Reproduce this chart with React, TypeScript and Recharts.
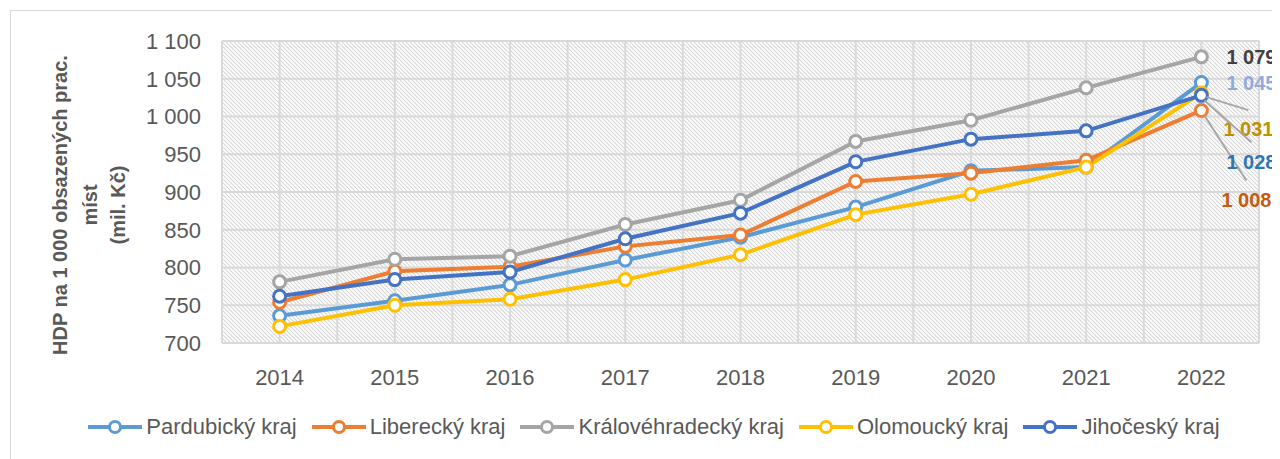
import React from 'react';
import { LineChart, Line, XAxis, YAxis, CartesianGrid, Legend, LabelList } from 'recharts';

const years = [2014, 2015, 2016, 2017, 2018, 2019, 2020, 2021, 2022];
const pardubicky = [736, 756, 777, 810, 840, 880, 928, 933, 1045];
const liberecky = [754, 795, 801, 828, 843, 914, 925, 942, 1008];
const kralovehradecky = [781, 811, 815, 857, 889, 967, 995, 1038, 1079];
const olomoucky = [722, 750, 758, 784, 817, 870, 897, 933, 1031];
const jihocesky = [762, 784, 794, 838, 872, 940, 970, 981, 1028];
const yTicks = [700, 750, 800, 850, 900, 950, 1000, 1050, 1100];
const gridSteps = [2013.5, 2014, 2014.5, 2015, 2015.5, 2016, 2016.5, 2017, 2017.5, 2018, 2018.5, 2019, 2019.5, 2020, 2020.5, 2021, 2021.5, 2022, 2022.5];
const yTitleLines = ['HDP na 1 000 obsazených prac.', 'míst', '(mil. Kč)'];

const data = years.map((year, i) => ({
  year,
  pardubicky: pardubicky[i],
  liberecky: liberecky[i],
  kralovehradecky: kralovehradecky[i],
  olomoucky: olomoucky[i],
  jihocesky: jihocesky[i],
}));

const FONT = '"Liberation Sans", Arial, sans-serif';
const TEXT = '#595959';

type LabelCfg = { color: string; dx: number; dy: number; leader?: [number, number, number, number] };

const series: { key: string; name: string; color: string; label: LabelCfg }[] = [
  { key: 'pardubicky', name: 'Pardubický kraj', color: '#5b9bd5', label: { color: '#8faadc', dx: 25, dy: 0 } },
  { key: 'liberecky', name: 'Liberecký kraj', color: '#ed7d31', label: { color: '#c55a11', dx: 20, dy: 90, leader: [3, 5, 45, 70] } },
  { key: 'kralovehradecky', name: 'Královéhradecký kraj', color: '#a5a5a5', label: { color: '#404040', dx: 25, dy: 0 } },
  { key: 'olomoucky', name: 'Olomoucký kraj', color: '#ffc000', label: { color: '#bf9000', dx: 22, dy: 36, leader: [5, 4, 47, 17] } },
  { key: 'jihocesky', name: 'Jihočeský kraj', color: '#4472c4', label: { color: '#2e75b6', dx: 25, dy: 67, leader: [3, 5, 50, 47] } },
];

const fmt = (v: number) =>
  v >= 1000 ? `${Math.floor(v / 1000)} ${String(v % 1000).padStart(3, '0')}` : String(v);

const EndLabel = (props: any) => {
  const { cfg, value, index } = props;
  const x = props.x ?? props.viewBox?.x;
  const y = props.y ?? props.viewBox?.y;
  if (index !== years.length - 1 || x == null || y == null) return null;
  return (
    <g>
      {cfg.leader && (
        <line
          x1={x + cfg.leader[0]}
          y1={y + cfg.leader[1]}
          x2={x + cfg.leader[2]}
          y2={y + cfg.leader[3]}
          stroke="#a6a6a6"
          strokeWidth={2}
        />
      )}
      <text
        x={x + cfg.dx}
        y={y + cfg.dy}
        dominantBaseline="central"
        fill={cfg.color}
        fontFamily={FONT}
        fontSize={20}
        fontWeight="bold"
      >
        {fmt(Number(value))}
      </text>
    </g>
  );
};

const YTitle = (props: any) => {
  const vb = props.viewBox || { x: 0, y: 33, width: 214, height: 302 };
  const cy = vb.y + vb.height / 2 + 13;
  const xs = [52, 82, 110];
  return (
    <g>
      {yTitleLines.map((t, i) => (
        <text
          key={i}
          x={xs[i]}
          y={cy}
          transform={`rotate(-90, ${xs[i]}, ${cy})`}
          textAnchor="middle"
          dominantBaseline="central"
          fill={TEXT}
          fontFamily={FONT}
          fontSize={20}
          fontWeight="bold"
        >
          {t}
        </text>
      ))}
    </g>
  );
};

const LegendContent = () => (
  <div
    style={{
      display: 'flex',
      justifyContent: 'center',
      alignItems: 'center',
      height: 30,
      paddingLeft: 54,
      fontFamily: FONT,
      fontSize: 22,
      color: TEXT,
    }}
  >
    {series.map((s) => (
      <div key={s.key} style={{ display: 'flex', alignItems: 'center', marginRight: 14 }}>
        <svg width={56} height={20}>
          <line x1={1} y1={10} x2={55} y2={10} stroke={s.color} strokeWidth={4} />
          <circle cx={28} cy={10} r={5.5} fill="#fff" stroke={s.color} strokeWidth={3} />
        </svg>
        <span style={{ marginLeft: 3, whiteSpace: 'nowrap' }}>{s.name}</span>
      </div>
    ))}
  </div>
);

const vGen = (p: any) => {
  const xa = p?.xAxis;
  if (xa && typeof xa.scale === 'function') {
    return gridSteps.map((v) => xa.scale(v));
  }
  const off = p?.offset || { left: 214, width: 1037 };
  return gridSteps.map((_, i) => off.left + (i / (gridSteps.length - 1)) * off.width);
};

export default function App() {
  return (
    <div style={{ position: 'relative', width: 1272, height: 451, overflow: 'hidden', background: '#fff' }}>
      <div
        style={{
          position: 'absolute',
          left: 2,
          top: 2,
          width: 2000,
          height: 2000,
          border: '1px solid #d9d9d9',
        }}
      />
      <div style={{ position: 'absolute', left: 0, top: 0 }}>
        <LineChart width={1272} height={451} data={data} margin={{ top: 33, right: 21, bottom: 17, left: 0 }}>
          <defs>
            <pattern id="hatch" patternUnits="userSpaceOnUse" width={4} height={4}>
              <path d="M0,0 L4,4 M-1,3 L1,5 M3,-1 L5,1" stroke="#d6d6d6" strokeWidth={1.1} />
            </pattern>
          </defs>
          <CartesianGrid
            fill="url(#hatch)"
            stroke="#d9d9d9"
            strokeWidth={2}
            verticalCoordinatesGenerator={vGen}
          />
          <XAxis
            dataKey="year"
            type="number"
            domain={[2013.5, 2022.5]}
            ticks={years}
            axisLine={false}
            tickLine={false}
            tickSize={0}
            tickMargin={26}
            height={69}
            tick={{ fill: TEXT, fontSize: 22, fontFamily: FONT }}
            interval={0}
          />
          <YAxis
            domain={[700, 1100]}
            ticks={yTicks}
            axisLine={false}
            tickLine={false}
            tickSize={0}
            tickMargin={21}
            width={214}
            tickFormatter={fmt}
            tick={{ fill: TEXT, fontSize: 22, fontFamily: FONT }}
            interval={0}
            label={{ content: (p: any) => <YTitle {...p} /> }}
          />
          <Legend verticalAlign="bottom" content={() => <LegendContent />} />
          {series.map((s) => (
            <Line
              key={s.key}
              type="linear"
              dataKey={s.key}
              name={s.name}
              stroke={s.color}
              strokeWidth={4}
              dot={{ r: 6, fill: '#fff', stroke: s.color, strokeWidth: 3 }}
              isAnimationActive={false}
            >
              <LabelList dataKey={s.key} content={(p: any) => <EndLabel {...p} cfg={s.label} />} />
            </Line>
          ))}
        </LineChart>
      </div>
    </div>
  );
}
